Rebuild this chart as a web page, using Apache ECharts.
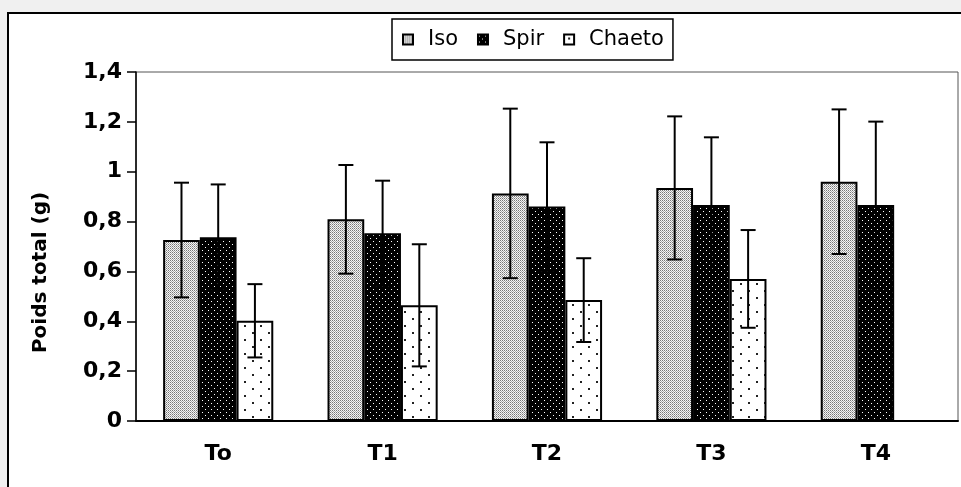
<!DOCTYPE html>
<html>
<head>
<meta charset="utf-8">
<script src="https://cdn.jsdelivr.net/npm/echarts@6/dist/echarts.min.js"></script>
<style>
    html, body { margin: 0; padding: 0; background: #f0f0f0; }
    #chart { width: 961px; height: 487px; }
</style>
</head>
<body>
<div id="chart"></div>
<script>
// data
const categories = ['To', 'T1', 'T2', 'T3', 'T4'];
const isoMean = [0.726, 0.809, 0.913, 0.935, 0.96];
const isoErr = [0.23, 0.218, 0.34, 0.287, 0.29];
const spirMean = [0.737, 0.753, 0.86, 0.866, 0.866];
const spirErr = [0.212, 0.211, 0.258, 0.272, 0.335];
const chaetoMean = [0.402, 0.464, 0.485, 0.57, null];
const chaetoErr = [0.147, 0.245, 0.168, 0.196, null];
const seriesNames = ['Iso', 'Spir', 'Chaeto'];
const yTicks = [0, 0.2, 0.4, 0.6, 0.8, 1, 1.2, 1.4];

const FONT = '"DejaVu Sans", sans-serif';
const CAT_GAP = 0.33;

// small canvas tiles for the hatch fills
function makeTile(w, h, bg, dots, size) {
    const c = document.createElement('canvas');
    c.width = w;
    c.height = h;
    const ctx = c.getContext('2d');
    ctx.fillStyle = bg;
    ctx.fillRect(0, 0, w, h);
    dots.forEach(function (d) {
        ctx.fillStyle = d[2];
        ctx.fillRect(d[0], d[1], size, size);
    });
    return c;
}
const isoTile = makeTile(2, 2, '#f6f6f6', [[0, 0, '#777'], [1, 1, '#aaa']], 1);
const spirTile = makeTile(6, 6, '#000000', [[1, 1, '#ffffff'], [4, 4, '#ffffff']], 1);
const chaetoTile = makeTile(16, 14, '#ffffff', [[4, 3, '#222'], [12, 10, '#222']], 2);
const fills = [isoTile, spirTile, chaetoTile];

function toData(arr) {
    return arr.map(function (v) { return v == null ? '-' : v; });
}
function errData(mean, err) {
    const out = [];
    for (let i = 0; i < mean.length; i++) {
        if (mean[i] == null) continue;
        out.push([i, mean[i] - err[i], mean[i] + err[i]]);
    }
    return out;
}

function errRender(k) {
    return function (params, api) {
        const band = api.size([1, 0])[0];
        const bw = band * (1 - CAT_GAP) / 3;
        const off = (k - 1) * bw;
        const top = api.coord([api.value(0), api.value(2)]);
        const bot = api.coord([api.value(0), api.value(1)]);
        const x = top[0] + off;
        const cap = 7.5;
        const st = { stroke: '#000', lineWidth: 2 };
        return {
            type: 'group',
            children: [
                { type: 'line', shape: { x1: x, y1: top[1], x2: x, y2: bot[1] }, style: st },
                { type: 'line', shape: { x1: x - cap, y1: top[1], x2: x + cap, y2: top[1] }, style: st },
                { type: 'line', shape: { x1: x - cap, y1: bot[1], x2: x + cap, y2: bot[1] }, style: st }
            ]
        };
    };
}

const means = [isoMean, spirMean, chaetoMean];
const errs = [isoErr, spirErr, chaetoErr];
const series = [];
for (let i = 0; i < 3; i++) {
    series.push({
        name: seriesNames[i],
        type: 'bar',
        barGap: '0%',
        barCategoryGap: (CAT_GAP * 100) + '%',
        itemStyle: {
            color: { image: fills[i], repeat: 'repeat' },
            borderColor: '#000',
            borderWidth: 2
        },
        data: toData(means[i])
    });
}
for (let i = 0; i < 3; i++) {
    series.push({
        type: 'custom',
        renderItem: errRender(i),
        z: 5,
        silent: true,
        data: errData(means[i], errs[i])
    });
}

const chart = echarts.init(document.getElementById('chart'));
chart.setOption({
    backgroundColor: '#f0f0f0',
    animation: false,
    graphic: [{
        type: 'rect',
        z: -10,
        shape: { x: 8, y: 13, width: 1000, height: 520 },
        style: { fill: '#ffffff', stroke: '#000', lineWidth: 2 }
    }],
    legend: {
        data: seriesNames,
        top: 19,
        left: 392,
        itemWidth: 10,
        itemHeight: 10,
        itemGap: 19,
        padding: [10, 9, 10, 10],
        borderColor: '#000',
        borderWidth: 1.5,
        icon: 'rect',
        textStyle: { fontFamily: FONT, fontSize: 21, color: '#000', padding: [0, 0, 0, 10] }
    },
    grid: {
        left: 136,
        right: 3,
        top: 72,
        bottom: 66,
        show: true,
        borderColor: '#555',
        borderWidth: 1
    },
    xAxis: {
        type: 'category',
        data: categories,
        axisLine: { lineStyle: { color: '#000', width: 2 } },
        axisTick: { length: 6, lineStyle: { color: '#000', width: 1.5 } },
        axisLabel: { margin: 22, fontFamily: FONT, fontSize: 22, fontWeight: 'bold', color: '#000' }
    },
    yAxis: {
        type: 'value',
        min: yTicks[0],
        max: yTicks[yTicks.length - 1],
        interval: 0.2,
        name: 'Poids total (g)',
        nameLocation: 'middle',
        nameGap: 85,
        nameTextStyle: {
            fontFamily: FONT, fontSize: 20, fontWeight: 'bold', color: '#000',
            padding: [0, 52, 0, 0]
        },
        splitLine: { show: false },
        axisLine: { show: true, lineStyle: { color: '#000', width: 1.5 } },
        axisTick: { show: true, length: 9, lineStyle: { color: '#000', width: 1.5 } },
        axisLabel: {
            margin: 14,
            fontFamily: FONT,
            fontSize: 22,
            fontWeight: 'bold',
            color: '#000',
            formatter: function (v) {
                return String(Math.round(v * 10) / 10).replace('.', ',');
            }
        }
    },
    series: series
});
</script>
</body>
</html>
